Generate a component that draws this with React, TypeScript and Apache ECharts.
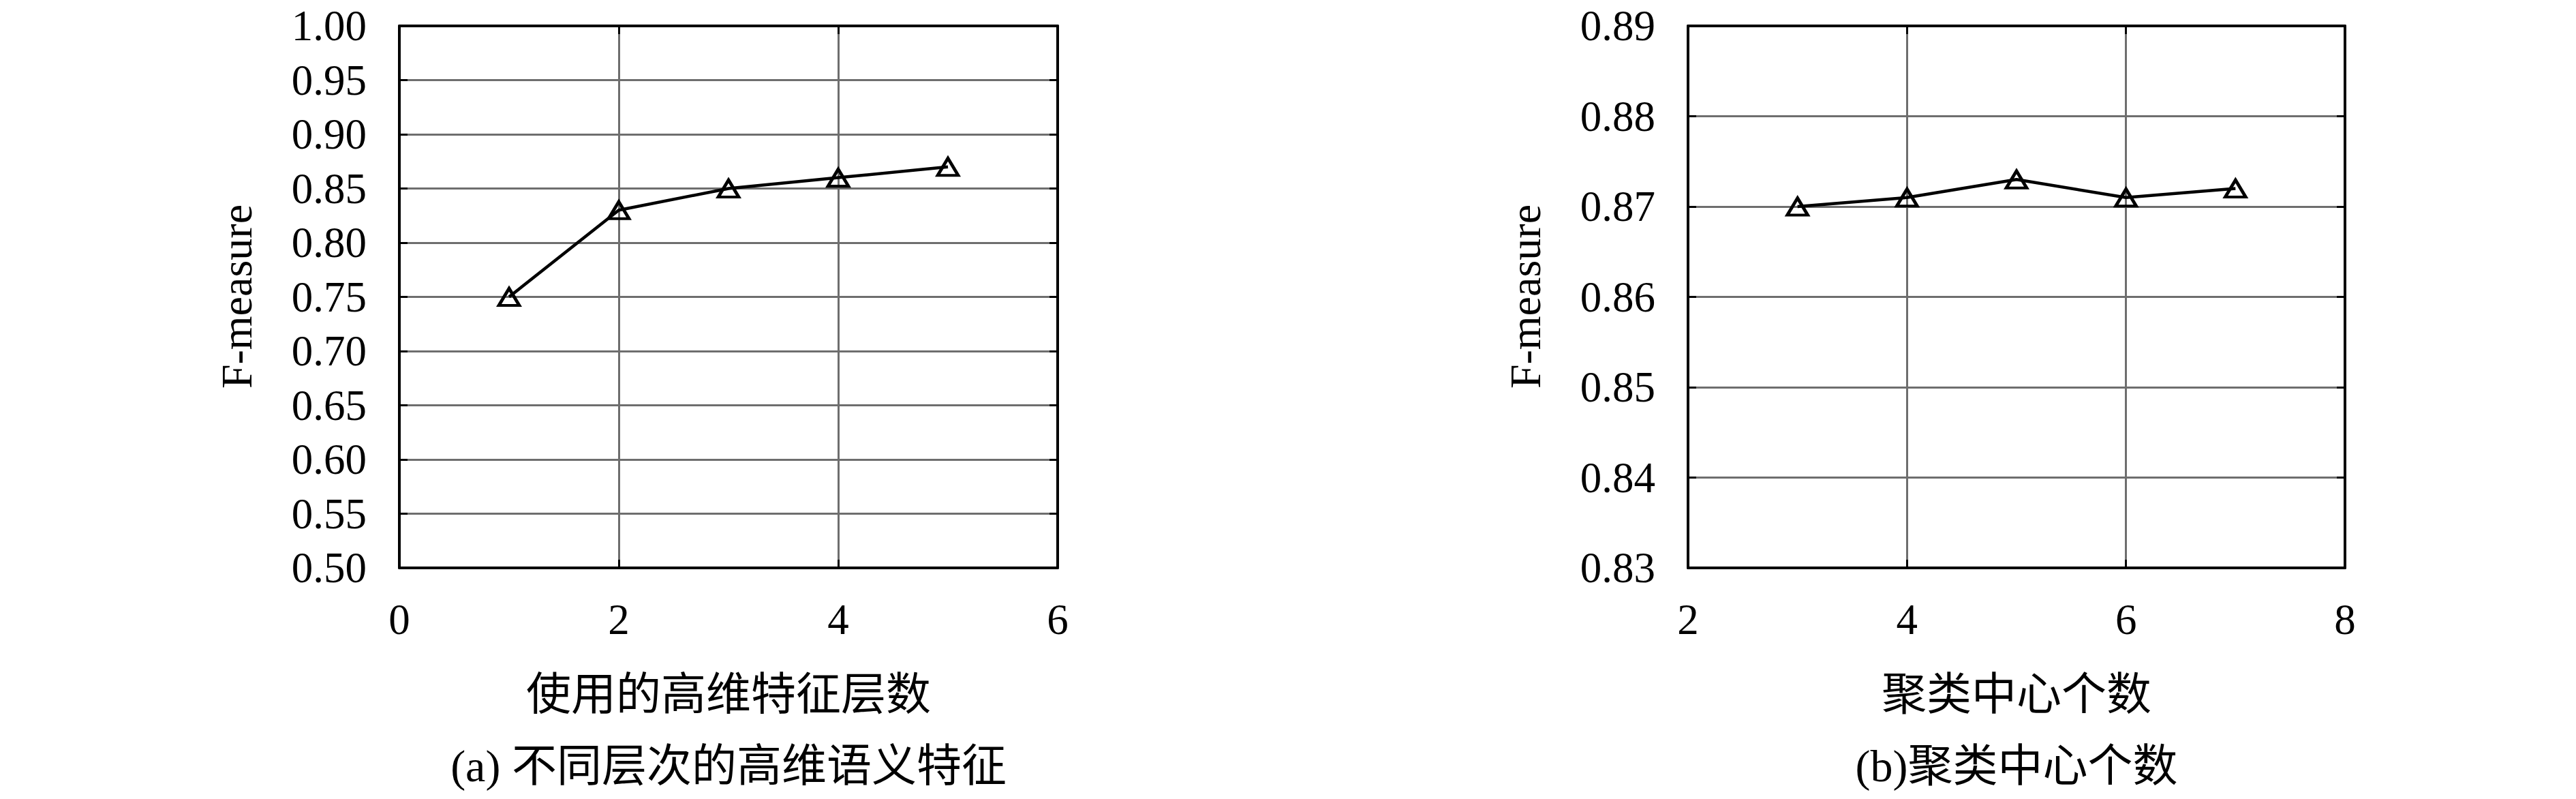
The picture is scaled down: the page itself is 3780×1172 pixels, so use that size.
import React, { useEffect, useRef } from "react";
import * as echarts from "echarts";

const layersX = [1, 2, 3, 4, 5];
const layersF = [0.75, 0.83, 0.85, 0.86, 0.87];
const centersX = [3, 4, 5, 6, 7];
const centersF = [0.87, 0.871, 0.873, 0.871, 0.872];

const yNameText = "F-measure";
const xNameA = "使用的高维特征层数";
const xNameB = "聚类中心个数";
const captionA = "(a) 不同层次的高维语义特征";
const captionB = "(b)聚类中心个数";

const SERIF = "'Liberation Serif', 'DejaVu Serif', serif";
const CJK = "'Liberation Serif', 'Noto Sans CJK SC', serif";

function axisPair(gridIndex: number, min: number, max: number, interval: number, dim: "x" | "y") {
  const common = {
    gridIndex,
    type: "value",
    min,
    max,
    interval,
    axisLine: { show: true, onZero: false, lineStyle: { color: "#000", width: 4 } },
    axisTick: { show: true, inside: true, length: 12, lineStyle: { color: "#000", width: 3 } },
  };
  const main = {
    ...common,
    position: dim === "x" ? "bottom" : "left",
    axisLabel: {
      show: true,
      color: "#000",
      fontFamily: SERIF,
      fontSize: 63,
      margin: dim === "x" ? 48 : 48,
      lineHeight: dim === "x" ? 56 : 48,
      formatter: (v: number) => (dim === "x" ? String(Math.round(v)) : v.toFixed(2)),
    },
    splitLine: { show: true, lineStyle: { color: "#6e6e6e", width: 3 } },
  };
  const mirror = {
    ...common,
    position: dim === "x" ? "top" : "right",
    axisLabel: { show: false },
    splitLine: { show: false },
  };
  return [main, mirror];
}

export default function App() {
  const ref = useRef<HTMLDivElement>(null);
  useEffect(() => {
    if (!ref.current) return;
    const chart = echarts.init(ref.current, undefined, { renderer: "svg" });
    const option = {
      animation: false,
      backgroundColor: "#fff",
      grid: [
        { left: 586, top: 38, width: 966, height: 795 },
        { left: 2477, top: 38, width: 964, height: 795 },
      ],
      xAxis: [...axisPair(0, 0, 6, 2, "x"), ...axisPair(1, 2, 8, 2, "x")],
      yAxis: [...axisPair(0, 0.5, 1.0, 0.05, "y"), ...axisPair(1, 0.83, 0.89, 0.01, "y")],
      series: [
        {
          type: "line",
          xAxisIndex: 0,
          yAxisIndex: 0,
          data: layersX.map((x, i) => [x, layersF[i]]),
          lineStyle: { color: "#000", width: 4.5 },
          symbol: "triangle",
          symbolSize: [30, 25],
          itemStyle: { color: "rgba(0,0,0,0)", borderColor: "#000", borderWidth: 4.5 },
          z: 5,
        },
        {
          type: "line",
          xAxisIndex: 2,
          yAxisIndex: 2,
          data: centersX.map((x, i) => [x, centersF[i]]),
          lineStyle: { color: "#000", width: 4.5 },
          symbol: "triangle",
          symbolSize: [30, 25],
          itemStyle: { color: "rgba(0,0,0,0)", borderColor: "#000", borderWidth: 4.5 },
          z: 5,
        },
      ],
      graphic: [
        {
          type: "text",
          x: 347,
          y: 435,
          rotation: Math.PI / 2,
          style: { text: yNameText, fill: "#000", font: `64px ${SERIF}`, align: "center", verticalAlign: "middle" },
        },
        {
          type: "text",
          x: 2238,
          y: 435,
          rotation: Math.PI / 2,
          style: { text: yNameText, fill: "#000", font: `64px ${SERIF}`, align: "center", verticalAlign: "middle" },
        },
        {
          type: "text",
          x: 1069,
          y: 1018,
          style: { text: xNameA, fill: "#000", font: `66px ${CJK}`, align: "center", verticalAlign: "middle" },
        },
        {
          type: "text",
          x: 2959,
          y: 1018,
          style: { text: xNameB, fill: "#000", font: `66px ${CJK}`, align: "center", verticalAlign: "middle" },
        },
        {
          type: "text",
          x: 1069,
          y: 1123,
          style: { text: captionA, fill: "#000", font: `66px ${CJK}`, align: "center", verticalAlign: "middle" },
        },
        {
          type: "text",
          x: 2959,
          y: 1123,
          style: { text: captionB, fill: "#000", font: `66px ${CJK}`, align: "center", verticalAlign: "middle" },
        },
      ],
    };
    chart.setOption(option as any);
    return () => chart.dispose();
  }, []);
  return (
    <div
      ref={ref}
      style={{ position: "fixed", left: 0, top: 0, width: 3780, height: 1172, background: "#fff" }}
    />
  );
}
